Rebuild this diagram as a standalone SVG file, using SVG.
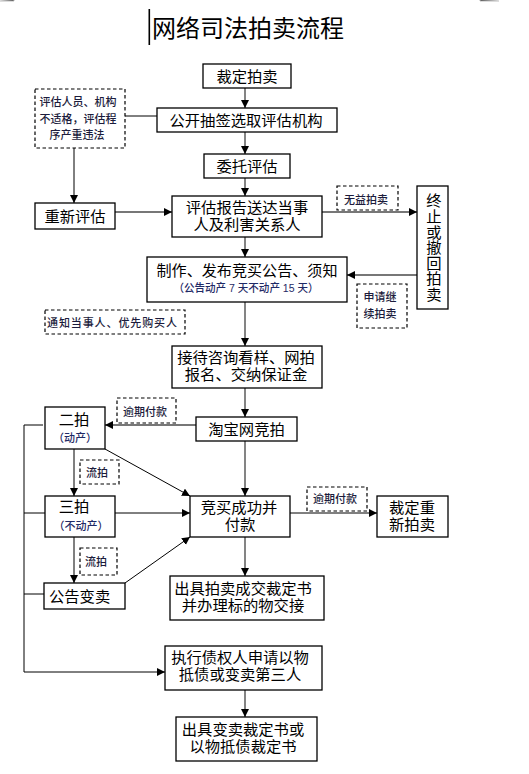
<svg xmlns="http://www.w3.org/2000/svg" width="529" height="774" viewBox="0 0 529 774">
<style>
.box{fill:#fff;stroke:#000;stroke-width:1.3}
.dash{fill:#fff;stroke:#000;stroke-width:1.2;stroke-dasharray:3.5,2.5}
.t{font-family:"Liberation Sans","Noto Sans CJK SC",sans-serif;font-size:15.3px;fill:#000;text-anchor:middle}
.s{font-family:"Liberation Sans","Noto Sans CJK SC",sans-serif;font-size:11px;fill:#1c1c3c;text-anchor:middle;font-weight:500}
.p{font-family:"Liberation Sans","Noto Sans CJK SC",sans-serif;font-size:11px;fill:#1f2a66;text-anchor:middle;font-weight:500}
.g{stroke:#777;stroke-width:1.8;fill:none}
.k{stroke:#000;stroke-width:1;fill:none}
</style>
<defs>
<marker id="ah" markerUnits="userSpaceOnUse" markerWidth="9" markerHeight="9" refX="8" refY="4" orient="auto">
<path d="M0,0 L8,4 L0,8 z" fill="#000"/>
</marker>
</defs>
<rect width="529" height="774" fill="#fff"/>
<g id="corner-marks" stroke="#bbb" stroke-width="1">
<path d="M0,1 H14 V0"/>
<path d="M480,0 V1 H499"/>
</g>
<g id="title">
<rect x="148.5" y="9" width="1.6" height="36" fill="#000"/>
<text x="152" y="37" style="font-family:'Noto Sans CJK SC',sans-serif;font-size:24px;fill:#000">网络司法拍卖流程</text>
</g>
<g id="connectors">
<line class="g" x1="245" y1="88" x2="245" y2="108" marker-end="url(#ah)"/>
<line class="g" x1="245" y1="132" x2="245" y2="154" marker-end="url(#ah)"/>
<line class="g" x1="245" y1="178" x2="245" y2="196" marker-end="url(#ah)"/>
<line class="g" x1="245" y1="237" x2="245" y2="257" marker-end="url(#ah)"/>
<line class="g" x1="245" y1="302" x2="245" y2="346" marker-end="url(#ah)"/>
<line class="g" x1="245" y1="388" x2="245" y2="417" marker-end="url(#ah)"/>
<line class="g" x1="245" y1="441" x2="245" y2="496" marker-end="url(#ah)"/>
<line class="g" x1="245" y1="537" x2="245" y2="576" marker-end="url(#ah)"/>
<line class="g" x1="245" y1="690" x2="245" y2="717" marker-end="url(#ah)"/>
<line class="k" x1="125" y1="116" x2="157" y2="116"/>
<line class="k" x1="74" y1="148" x2="74" y2="203" marker-end="url(#ah)"/>
<line class="g" x1="115" y1="212" x2="172" y2="212" marker-end="url(#ah)"/>
<line class="g" x1="322" y1="212" x2="417" y2="212" marker-end="url(#ah)"/>
<line class="g" x1="417" y1="275" x2="347" y2="275" marker-end="url(#ah)"/>
<line class="g" x1="196" y1="425" x2="105" y2="425" marker-end="url(#ah)"/>
<line class="k" x1="115" y1="513" x2="190" y2="513" marker-end="url(#ah)"/>
<line class="k" x1="290" y1="513" x2="377" y2="513" marker-end="url(#ah)"/>
<polyline class="k" points="43,425 24,425 24,672 165,672" marker-end="url(#ah)"/>
<line class="k" x1="24" y1="513" x2="45" y2="513"/>
<line class="k" x1="24" y1="594" x2="44" y2="594"/>
<line class="k" x1="74" y1="449" x2="74" y2="496" marker-end="url(#ah)"/>
<line class="k" x1="74" y1="537" x2="74" y2="583" marker-end="url(#ah)"/>
<line class="k" x1="105" y1="449" x2="190" y2="496" marker-end="url(#ah)"/>
<line class="k" x1="125" y1="583" x2="190" y2="537" marker-end="url(#ah)"/>
</g>
<g id="n-caiding"><rect class="box" x="203" y="64" width="88" height="24"/><text class="t" x="247" y="82">裁定拍卖</text></g>
<g id="n-gongkai"><rect class="box" x="157" y="108" width="180" height="24"/><text class="t" x="246" y="126">公开抽签选取评估机构</text></g>
<g id="n-note-pinggu"><rect class="dash" x="35" y="89" width="90" height="59"/>
<text class="s"><tspan x="78" y="106">评估人员、机构</tspan><tspan x="78" y="122.5">不适格，评估程</tspan><tspan x="77" y="139">序产重违法</tspan></text></g>
<g id="n-weituo"><rect class="box" x="204" y="154" width="86" height="24"/><text class="t" x="247" y="172">委托评估</text></g>
<g id="n-chongxin"><rect class="box" x="35" y="203" width="80" height="26"/><text class="t" x="75" y="222">重新评估</text></g>
<g id="n-baogao"><rect class="box" x="172" y="196" width="150" height="41"/><text class="t"><tspan x="247" y="212.5">评估报告送达当事</tspan><tspan x="247" y="229.5">人及利害关系人</tspan></text></g>
<g id="n-note-wuyi"><rect class="dash" x="337" y="186" width="61" height="24"/><text class="s" x="366" y="204">无益拍卖</text></g>
<g id="n-zhongzhi"><rect class="box" x="417" y="186" width="31" height="123"/>
<text class="t" x="432.5" y="247.5" style="writing-mode:vertical-rl;letter-spacing:0.3px">终止或撤回拍卖</text></g>
<g id="n-zhizuo"><rect class="box" x="147" y="257" width="200" height="45"/><text class="t" x="247" y="275.5" textLength="181" lengthAdjust="spacingAndGlyphs">制作、发布竞买公告、须知</text><text class="p" x="246" y="292" textLength="145" lengthAdjust="spacingAndGlyphs">（公告动产 7 天不动产 15 天）</text></g>
<g id="n-note-jixu"><rect class="dash" x="357" y="284" width="50" height="44"/><text class="s"><tspan x="380" y="301">申请继</tspan><tspan x="380" y="318">续拍卖</tspan></text></g>
<g id="n-note-tongzhi"><rect class="dash" x="45" y="310" width="140" height="24"/><text class="s" x="112" y="327" textLength="130" lengthAdjust="spacing">通知当事人、优先购买人</text></g>
<g id="n-jiedai"><rect class="box" x="172" y="346" width="150" height="42"/><text class="t"><tspan x="246" y="362.5">接待咨询看样、网拍</tspan><tspan x="246" y="379.5">报名、交纳保证金</tspan></text></g>
<g id="n-taobao"><rect class="box" x="196" y="417" width="101" height="24"/><text class="t" x="246.5" y="435">淘宝网竞拍</text></g>
<g id="n-note-yuqi1"><rect class="dash" x="117" y="398" width="59" height="25"/><text class="s" x="145" y="416">逾期付款</text></g>
<g id="n-erpai"><rect class="box" x="45" y="407" width="60" height="42"/><text class="t" x="74" y="424.5">二拍</text><text class="p" x="75" y="442">（动产）</text></g>
<g id="n-note-liupai1"><rect class="dash" x="80" y="460" width="39" height="24"/><text class="s" x="97" y="477">流拍</text></g>
<g id="n-sanpai"><rect class="box" x="45" y="496" width="70" height="41"/><text class="t" x="74" y="512">三拍</text><text class="p" x="81" y="530">（不动产）</text></g>
<g id="n-jingmai"><rect class="box" x="190" y="496" width="100" height="41"/><text class="t"><tspan x="239" y="512.5">竞买成功并</tspan><tspan x="240" y="529.5">付款</tspan></text></g>
<g id="n-note-yuqi2"><rect class="dash" x="307" y="487" width="60" height="24"/><text class="s" x="335" y="503">逾期付款</text></g>
<g id="n-chongxinpai"><rect class="box" x="377" y="496" width="71" height="41"/><text class="t"><tspan x="412" y="512.5">裁定重</tspan><tspan x="412" y="529.5">新拍卖</tspan></text></g>
<g id="n-note-liupai2"><rect class="dash" x="80" y="548" width="37" height="27"/><text class="s" x="96" y="566">流拍</text></g>
<g id="n-bianmai"><rect class="box" x="44" y="583" width="81" height="26"/><text class="t" x="49" y="602" style="text-anchor:start">公告变卖</text></g>
<g id="n-chengjiao"><rect class="box" x="170" y="576" width="154" height="44"/><text class="t"><tspan x="243" y="593.5">出具拍卖成交裁定书</tspan><tspan x="243" y="610.5">并办理标的物交接</tspan></text></g>
<g id="n-zhixing"><rect class="box" x="165" y="646" width="157" height="44"/><text class="t"><tspan x="240" y="663">执行债权人申请以物</tspan><tspan x="240" y="680">抵债或变卖第三人</tspan></text></g>
<g id="n-biancaiding"><rect class="box" x="176" y="717" width="141" height="44"/><text class="t"><tspan x="243" y="735">出具变卖裁定书或</tspan><tspan x="243" y="752">以物抵债裁定书</tspan></text></g>
</svg>
